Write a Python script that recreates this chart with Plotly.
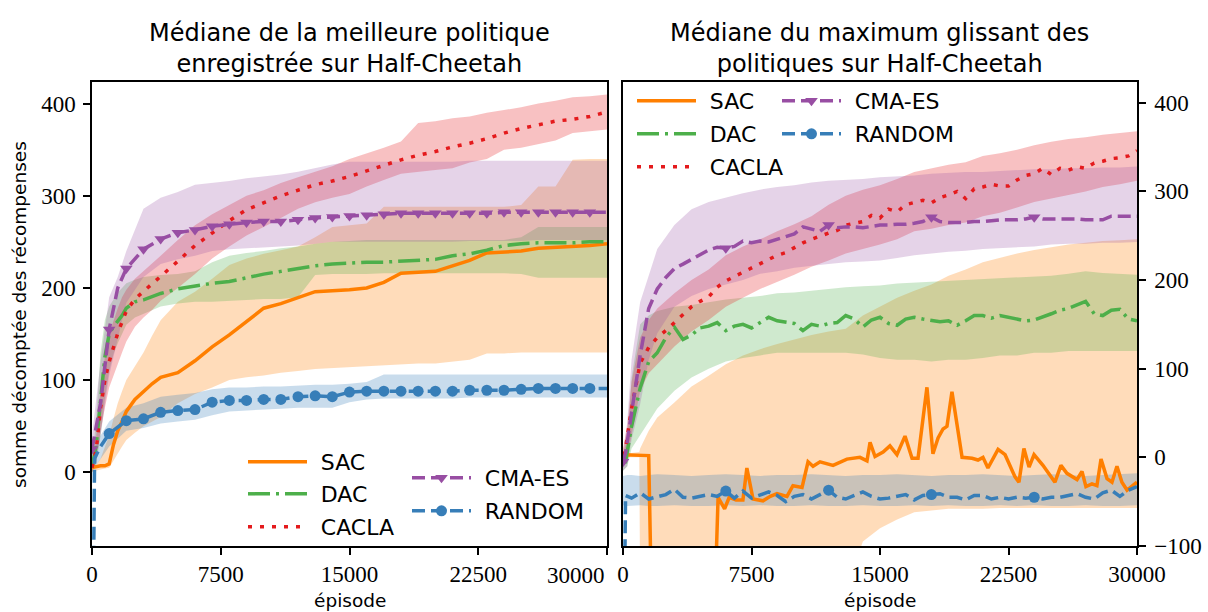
import plotly.graph_objects as go

W, H = 1208, 612

# ---------------- colours ----------------
C_SAC, C_DAC, C_CACLA, C_CMA, C_RND = "#ff7f00", "#4daf4a", "#e41a1c", "#984ea3", "#377eb8"
NAMES = ["SAC", "DAC", "CACLA", "CMA-ES", "RANDOM"]

# ---------------- LEFT PANEL DATA (best recorded policy) ----------------
XL = [0, 250, 500, 750, 1000, 1250, 1500, 1750, 2000, 2500, 3000, 3500, 4000,
      5000, 6000, 7000, 8000, 9000, 10000, 11000, 12000, 13000, 14000, 15000,
      16000, 17000, 18000, 19000, 20000, 21000, 22000, 23000, 24000, 25000,
      26000, 27000, 28000, 29000, 30000]
SAC_L = [5, 6, 7, 7, 9, 30, 45, 55, 66, 79, 88, 96, 103,
         108, 121, 136, 149, 163, 178, 183, 190, 196, 197, 198,
         200, 206, 216, 217, 218, 224, 230, 238, 239, 240,
         243, 244, 245, 246, 248]
SAC_L_LO = [0, 2, 3, 4, 5, 12, 20, 28, 35, 43, 50, 55, 60,
            75, 85, 92, 100, 103, 105, 108, 110, 112, 113, 114,
            115, 116, 117, 118, 118, 120, 122, 129, 129, 130,
            130, 130, 130, 130, 130]
SAC_L_HI = [5, 8, 15, 28, 40, 58, 75, 88, 100, 115, 130, 148, 165,
            185, 196, 210, 225, 232, 237, 241, 245, 255, 266, 268,
            270, 288, 288, 288, 288, 288, 288, 288, 288, 290,
            310, 310, 339, 340, 340]
DAC_L = [5, 30, 78, 125, 150, 158, 164, 170, 178, 185, 187, 191, 194,
         199, 202, 205, 207, 211, 215, 218, 221, 224, 226, 227,
         228, 228, 229, 230, 231, 235, 237, 241, 246, 248,
         249, 249, 249, 250, 250]
DAC_L_LO = [0, 10, 40, 80, 110, 128, 140, 150, 160, 168, 172, 176, 180,
            183, 185, 185, 186, 187, 188, 188, 190, 214, 215, 215,
            215, 216, 216, 216, 216, 216, 216, 216, 216, 215,
            211, 211, 211, 211, 211]
DAC_L_HI = [10, 60, 130, 165, 180, 188, 195, 200, 205, 209, 212, 213, 214,
            215, 218, 228, 235, 238, 240, 243, 245, 248, 250, 251,
            252, 252, 252, 252, 252, 252, 252, 252, 252, 255,
            266, 266, 266, 266, 266]
CACLA_L = [5, 25, 70, 100, 120, 136, 151, 163, 175, 188, 196, 204, 213,
           229, 246, 260, 273, 285, 293, 300, 306, 312, 316, 321,
           327, 333, 339, 344, 348, 353, 357, 362, 368, 373,
           377, 381, 383, 386, 391]
CACLA_L_LO = [0, 10, 45, 70, 92, 105, 118, 130, 142, 158, 168, 176, 186,
              200, 215, 232, 245, 257, 266, 276, 286, 293, 298, 302,
              310, 317, 324, 326, 328, 330, 336, 340, 350, 352,
              356, 360, 368, 370, 372]
CACLA_L_HI = [10, 40, 90, 125, 150, 165, 178, 190, 198, 210, 218, 226, 235,
              252, 268, 280, 290, 300, 306, 314, 320, 326, 332, 340,
              346, 352, 359, 379, 381, 384, 386, 390, 393, 396,
              400, 403, 407, 408, 410]

X_CL = [0, 500, 1000, 1500, 2000,
        3000, 4000, 5000, 6000, 7000, 8000, 9000, 10000, 11000, 12000,
        13000, 14000, 15000, 16000, 17000, 18000, 19000, 20000, 21000, 22000,
        23000, 24000, 25000, 26000, 27000, 28000, 29000, 30000]
CMA_L = [25, 75, 155, 200, 221,
         242, 253, 260, 263, 267, 269, 271, 272, 272, 274,
         276, 277, 278, 279, 280, 281, 281, 281, 281, 281,
         281, 282, 282, 282, 282, 282, 282, 282]
CMA_L_LO = [5, 40, 105, 145, 184,
            212, 226, 231, 235, 240, 242, 243, 244, 245, 246,
            248, 250, 250, 250, 250, 250, 250, 250, 250, 251,
            251, 251, 251, 252, 252, 252, 252, 252]
CMA_L_HI = [40, 120, 190, 212, 240,
            286, 298, 304, 312, 314, 316, 319, 321, 323, 326,
            330, 334, 337, 337, 337, 337, 337, 337, 337, 338,
            338, 338, 338, 338, 338, 338, 338, 338]

X_RL = [0, 150, 500,
        1000, 2000, 3000, 4000, 5000, 6000, 7000, 8000, 9000, 10000,
        11000, 12000, 13000, 14000, 15000, 16000, 17000, 18000, 19000, 20000,
        21000, 22000, 23000, 24000, 25000, 26000, 27000, 28000, 29000, 30000]
RND_L = [-300, 15, 28,
         42, 56, 58, 65, 67, 68, 76, 78, 78, 79,
         79, 82, 83, 82, 87, 88, 88, 88, 88, 88,
         88, 89, 89, 89, 90, 91, 91, 91, 91, 91]
RND_L_LO = [5, 15,
            28, 45, 48, 53, 55, 57, 62, 66, 67, 68,
            69, 70, 70, 70, 76, 79, 80, 80, 80, 80,
            80, 81, 81, 81, 81, 81, 81, 81, 81, 81]
RND_L_HI = [25, 40,
            55, 70, 75, 82, 84, 86, 90, 92, 92, 93,
            93, 94, 95, 95, 96, 98, 106, 106, 106, 106,
            106, 106, 106, 106, 106, 106, 106, 106, 106, 106]

# ---------------- RIGHT PANEL DATA (sliding maximum) ----------------
X_R = [0, 150] + list(range(500, 30001, 500))
CMA_R = [-5, 5,
         50, 115, 168, 190, 203, 213, 218, 223, 229, 234,
         237, 236, 238, 244, 242, 244, 243, 246, 249, 252,
         260, 258, 255, 262, 259, 260, 260, 259, 261, 262,
         262, 263, 263, 264, 266, 271, 266, 265, 265, 265,
         266, 266, 267, 268, 268, 268, 269, 271, 269, 269,
         269, 269, 269, 268, 268, 268, 272, 272, 272, 272]
DAC_R = [-5, -5,
         35, 78, 108, 118, 135, 147, 133, 138, 146, 148,
         152, 143, 148, 150, 146, 152, 158, 154, 152, 151,
         143, 150, 148, 151, 152, 160, 156, 147, 155, 158,
         151, 149, 156, 158, 156, 154, 153, 154, 149, 154,
         160, 160, 157, 160, 158, 156, 154, 155, 158, 162,
         166, 168, 172, 176, 162, 160, 166, 167, 156, 154]
CACLA_R = [2, 10,
           55, 106, 124, 135, 143, 152, 162, 170, 176, 181,
           192, 199, 204, 209, 213, 218, 223, 228, 231, 237,
           242, 246, 250, 253, 256, 262, 264, 266, 273, 270,
           280, 277, 285, 288, 290, 287, 293, 296, 300, 292,
           303, 305, 308, 306, 306, 313, 318, 320, 326, 319,
           326, 324, 328, 326, 332, 334, 337, 338, 340, 346]
RND_R = [-300, -43,
         -46, -40, -47, -45, -42, -36, -45, -46, -44, -42,
         -44, -38, -46, -38, -46, -42, -39, -43, -50, -44,
         -42, -47, -42, -37, -45, -47, -43, -39, -44, -47,
         -46, -44, -42, -48, -43, -42, -41, -45, -45, -48,
         -43, -43, -47, -45, -47, -45, -46, -45, -47, -45,
         -45, -43, -41, -45, -47, -40, -37, -44, -37, -33]
X_SAC_R = [0, 1500, 1700, 5300, 5550, 5930, 6200, 6600, 7000, 7230, 7590, 8170,
           8600, 8990, 9570, 9920, 10450, 10800, 11090, 11500, 12260, 13070,
           13830, 14240, 14420, 14710, 15180, 15580, 15990, 16460, 16870, 17220,
           17740, 18090, 18390, 18680, 18910, 19200, 19790, 20370, 20720, 21010,
           21300, 21890, 22300, 22880, 23110, 23400, 23700, 23990, 24510, 25210,
           25560, 25910, 26500, 26790, 27020, 27370, 27660, 27900, 28250, 28540,
           28830, 29120, 29420, 29770, 30000]
SAC_R = [3, 2, -200, -200, -45, -58, -45, -48, -48, -12, -47, -49,
         -44, -41, -44, -32, -34, -5, -10, -5, -9, -2,
         0, -4, 17, 1, 6, 13, 3, 24, -1, -1,
         79, 4, 22, 32, 35, 74, 0, -1, -3, 0,
         -12, 9, 3, -22, -28, 10, -11, 3, -9, -28,
         -9, -18, -25, -16, -33, -30, -32, -2, -24, -28,
         -10, -28, -37, -32, -28]

X_RB = [0, 250, 500, 1000, 1500, 2000,
        3000, 4000, 5000, 6000, 7000, 8000, 9000, 10000, 11000, 12000,
        13000, 14000, 15000, 16000, 17000, 18000, 19000, 20000, 21000, 22000,
        23000, 24000, 25000, 26000, 27000, 28000, 29000, 30000]
CMA_R_LO = [-15, -10, 20, 60, 110, 140,
            170, 182, 190, 195, 200, 207, 210, 214, 216, 218,
            220, 221, 222, 225, 228, 230, 232, 233, 235, 236,
            237, 238, 240, 241, 241, 242, 242, 243]
CMA_R_HI = [5, 40, 110, 175, 205, 235,
            262, 280, 288, 293, 298, 302, 305, 307, 310, 312,
            313, 314, 316, 317, 318, 320, 321, 322, 322, 323,
            324, 325, 325, 326, 326, 327, 327, 328]
CACLA_R_LO = [-5, 0, 25, 75, 95, 105,
              125, 142, 155, 170, 180, 190, 198, 206, 215, 222,
              230, 235, 240, 246, 255, 258, 262, 265, 272, 276,
              282, 288, 292, 296, 300, 305, 308, 312]
CACLA_R_HI = [10, 35, 85, 135, 155, 168,
              185, 200, 212, 228, 238, 246, 255, 263, 272, 285,
              295, 302, 307, 314, 322, 326, 330, 333, 340, 343,
              347, 352, 356, 359, 361, 364, 366, 368]
DAC_R_LO = [-15, -10, 10, 25, 40, 55,
            75, 90, 100, 108, 112, 115, 118, 118, 118, 118,
            118, 116, 112, 110, 110, 108, 110, 110, 112, 115,
            115, 118, 118, 120, 120, 120, 120, 120]
DAC_R_HI = [5, 20, 90, 150, 160, 165,
            170, 172, 175, 178, 180, 182, 185, 186, 188, 190,
            192, 193, 194, 196, 197, 198, 199, 200, 201, 202,
            203, 204, 205, 207, 210, 208, 207, 206]
RND_R_LO = [-54, -55, -55, -54, -55, -55,
            -54, -55, -55, -54, -55, -54, -55, -55, -54, -55,
            -55, -54, -55, -55, -54, -55, -54, -55, -55, -54,
            -55, -54, -55, -55, -54, -55, -55, -54]
RND_R_HI = [-21, -20, -20, -21, -20, -19,
            -20, -21, -20, -19, -20, -21, -20, -20, -19, -20,
            -21, -20, -20, -19, -20, -21, -20, -20, -19, -20,
            -21, -20, -19, -20, -21, -20, -19, -18]
X_SB = [0, 500, 950, 1000, 1500, 2000,
        3000, 4000, 5000, 6000, 7000, 8000, 9000, 10000, 11000, 12000,
        13000, 14000, 15000, 16000, 17000, 18000, 19000, 20000, 21000, 22000,
        23000, 24000, 25000, 26000, 27000, 28000, 29000, 30000]
SAC_R_LO = [0, 0, 0, -150, -150, -150,
            -150, -150, -150, -150, -150, -150, -150, -150, -150, -150,
            -150, -95, -80, -70, -62, -60, -58, -58, -58, -57,
            -57, -57, -57, -57, -57, -57, -57, -57]
SAC_R_HI = [5, 5, 6, 10, 30, 45,
            62, 80, 92, 105, 115, 122, 128, 133, 138, 142,
            145, 160, 170, 180, 188, 195, 205, 212, 220, 225,
            230, 234, 237, 240, 242, 244, 245, 246]

X_TICKS = [0, 7500, 15000, 22500, 30000]
YL_TICKS = [0, 100, 200, 300, 400]
YR_TICKS = [-100, 0, 100, 200, 300, 400]

# ---------------- styles ----------------
LW = 3.5
DASH = {"SAC": "solid", "DAC": "22px,6px,3px,6px", "CACLA": "4px,8px",
        "CMA-ES": "13px,6px", "RANDOM": "13px,6px"}
COL = {"SAC": C_SAC, "DAC": C_DAC, "CACLA": C_CACLA, "CMA-ES": C_CMA, "RANDOM": C_RND}
SYM = {"CMA-ES": "triangle-down", "RANDOM": "circle"}
MSIZE = {"CMA-ES": 11, "RANDOM": 11}
SANS = "DejaVu Sans"
SERIF = "Liberation Serif"
THIN = "\u2009"


def rgba(hexc, a):
    h = hexc.lstrip("#")
    return "rgba(%d,%d,%d,%.2f)" % (int(h[0:2], 16), int(h[2:4], 16), int(h[4:6], 16), a)


fig = go.Figure()


def band(x, lo, hi, name, xa, ya, a=0.27):
    fig.add_trace(go.Scatter(x=list(x) + list(x)[::-1], y=list(hi) + list(lo)[::-1],
                             fill="toself", fillcolor=rgba(COL[name], a), mode="lines",
                             line=dict(width=0), hoverinfo="skip", showlegend=False,
                             xaxis=xa, yaxis=ya))


def line(x, y, name, xa, ya):
    fig.add_trace(go.Scatter(x=x, y=y, mode="lines",
                             line=dict(color=COL[name], width=LW, dash=DASH[name]),
                             showlegend=False, hoverinfo="skip", xaxis=xa, yaxis=ya))


def marks(x, y, name, every, xa, ya):
    pts = [(a, b) for a, b in zip(x, y) if a % every == 0 and a < 30000]
    fig.add_trace(go.Scatter(x=[p[0] for p in pts], y=[p[1] for p in pts], mode="markers",
                             marker=dict(symbol=SYM[name], size=MSIZE[name], color=COL[name],
                                         line=dict(width=0)),
                             showlegend=False, hoverinfo="skip", xaxis=xa, yaxis=ya))


# ---- left panel ----
band(XL, SAC_L_LO, SAC_L_HI, "SAC", "x", "y")
band(XL, DAC_L_LO, DAC_L_HI, "DAC", "x", "y")
band(XL, CACLA_L_LO, CACLA_L_HI, "CACLA", "x", "y")
band(X_CL, CMA_L_LO, CMA_L_HI, "CMA-ES", "x", "y", 0.25)
band(X_RL[1:], RND_L_LO, RND_L_HI, "RANDOM", "x", "y")
line(XL, SAC_L, "SAC", "x", "y")
line(XL, DAC_L, "DAC", "x", "y")
line(XL, CACLA_L, "CACLA", "x", "y")
line(X_CL, CMA_L, "CMA-ES", "x", "y")
marks(X_CL, CMA_L, "CMA-ES", 1000, "x", "y")
line(X_RL, RND_L, "RANDOM", "x", "y")
marks(X_RL, RND_L, "RANDOM", 1000, "x", "y")

# ---- right panel ----
band(X_SB, SAC_R_LO, SAC_R_HI, "SAC", "x2", "y2")
band(X_RB, DAC_R_LO, DAC_R_HI, "DAC", "x2", "y2")
band(X_RB, CACLA_R_LO, CACLA_R_HI, "CACLA", "x2", "y2")
band(X_RB, CMA_R_LO, CMA_R_HI, "CMA-ES", "x2", "y2", 0.25)
band(X_RB, RND_R_LO, RND_R_HI, "RANDOM", "x2", "y2")
line(X_SAC_R, SAC_R, "SAC", "x2", "y2")
line(X_R, DAC_R, "DAC", "x2", "y2")
line(X_R, CACLA_R, "CACLA", "x2", "y2")
line(X_R, CMA_R, "CMA-ES", "x2", "y2")
marks(X_R, CMA_R, "CMA-ES", 6000, "x2", "y2")
line(X_R, RND_R, "RANDOM", "x2", "y2")
marks(X_R, RND_R, "RANDOM", 6000, "x2", "y2")

# ---- legends: one legend box per entry so the 2-column layout can be placed exactly ----
LEG_POS_L = {"SAC": (248, 462), "DAC": (248, 494), "CACLA": (248, 527),
             "CMA-ES": (412, 478), "RANDOM": (412, 511)}
LEG_POS_R = {"SAC": (637, 101), "DAC": (637, 134), "CACLA": (637, 167),
             "CMA-ES": (782, 101), "RANDOM": (782, 134)}

legends = {}
k = 1
for pos in (LEG_POS_L, LEG_POS_R):
    for name in NAMES:
        lid = "legend" if k == 1 else "legend%d" % k
        px, py = pos[name]
        legends[lid] = dict(x=(px - 5) / W, y=1 - py / H, xanchor="left", yanchor="middle",
                            bgcolor="rgba(0,0,0,0)", borderwidth=0, itemwidth=59,
                            font=dict(family=SANS, size=22, color="black"))
        mode = "lines+markers" if name in SYM else "lines"
        fig.add_trace(go.Scatter(x=[None], y=[None], mode=mode, name=THIN + THIN + name,
                                 legend=lid,
                                 line=dict(color=COL[name], width=LW, dash=DASH[name]),
                                 marker=dict(symbol=SYM.get(name, "circle"), size=MSIZE.get(name, 6),
                                             color=COL[name]),
                                 showlegend=True, xaxis="x", yaxis="y"))
        k += 1

# ---------------- axes ----------------
axis_common = dict(showline=True, linecolor="black", linewidth=1.5, mirror=True,
                   ticks="outside", ticklen=7, tickwidth=1.5, tickcolor="black",
                   showgrid=False, zeroline=False, automargin=False,
                   tickfont=dict(family=SERIF, size=23, color="black"))
YB, YT = 1 - 546 / H, 1 - 81.5 / H
# the last label of the left panel is drawn right-aligned to the axis end (annotation below)
xl_text = [str(v) for v in X_TICKS[:-1]] + [""]
fig.update_layout(
    width=W, height=H, margin=dict(l=0, r=0, t=0, b=0, autoexpand=False),
    paper_bgcolor="white", plot_bgcolor="white",
    xaxis=dict(domain=[92 / W, 607 / W], range=[0, 30000], tickvals=X_TICKS,
               ticktext=xl_text, anchor="y", **axis_common),
    yaxis=dict(domain=[YB, YT], range=[-80, 424], tickvals=YL_TICKS,
               ticktext=[str(v) for v in YL_TICKS], anchor="x", ticklabelstandoff=3,
               **axis_common),
    xaxis2=dict(domain=[623 / W, 1137 / W], range=[0, 30000], tickvals=X_TICKS,
                ticktext=[str(v) for v in X_TICKS], anchor="y2", **axis_common),
    yaxis2=dict(domain=[YB, YT], range=[-100, 424], tickvals=YR_TICKS,
                ticktext=[("\u2212%d" % -v) if v < 0 else str(v) for v in YR_TICKS],
                anchor="x2", side="right", ticklabelstandoff=4, **axis_common),
    **legends,
)

ann_font = dict(family=SANS, color="black")
fig.add_annotation(text=str(X_TICKS[-1]), x=X_TICKS[-1], xref="x", y=1 - 575 / H, yref="paper",
                   xanchor="right", yanchor="middle", showarrow=False,
                   font=dict(family=SERIF, size=23, color="black"))
fig.add_annotation(text="Médiane de la meilleure politique<br>enregistrée sur Half-Cheetah",
                   x=349.5 / W, y=1 - 80 / H, xref="paper", yref="paper", xanchor="center",
                   yanchor="bottom", showarrow=False, font=dict(size=24, **ann_font))
fig.add_annotation(text="Médiane du maximum glissant des<br>politiques sur Half-Cheetah",
                   x=880 / W, y=1 - 80 / H, xref="paper", yref="paper", xanchor="center",
                   yanchor="bottom", showarrow=False, font=dict(size=24, **ann_font))
fig.add_annotation(text="somme décomptée des récompenses", textangle=-90,
                   x=20 / W, y=1 - 315 / H, xref="paper", yref="paper", xanchor="center",
                   yanchor="middle", showarrow=False, font=dict(size=18.5, **ann_font))
for cx in (349.5, 880):
    fig.add_annotation(text="épisode", x=cx / W, y=1 - 600 / H, xref="paper", yref="paper",
                       xanchor="center", yanchor="middle", showarrow=False,
                       font=dict(size=18.5, **ann_font))

fig.write_html("out.html")
